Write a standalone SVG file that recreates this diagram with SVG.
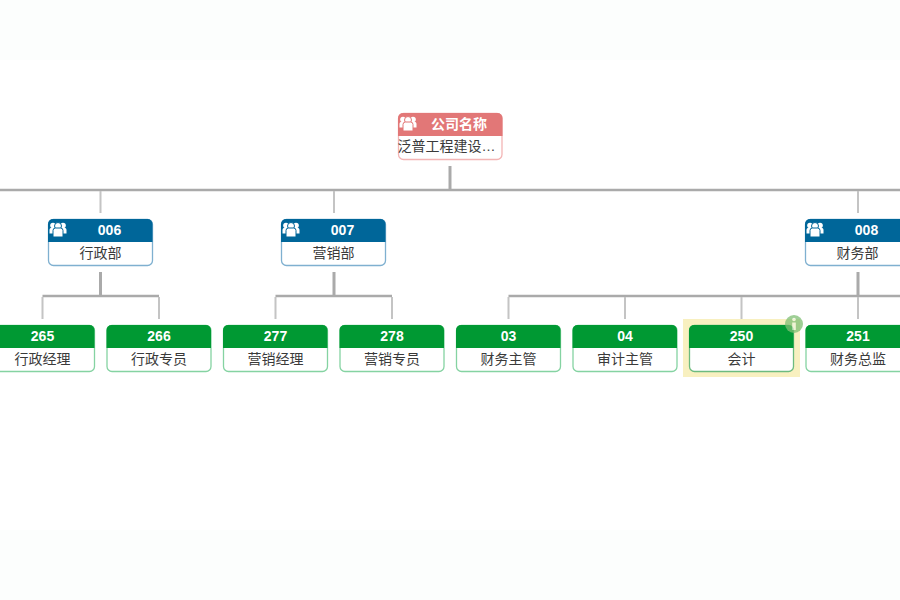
<svg xmlns="http://www.w3.org/2000/svg" width="900" height="600" viewBox="0 0 900 600">
<style>
.box{fill:#fff;stroke-width:1.300}
.t{font-family:"Liberation Sans","Noto Sans CJK SC",sans-serif;text-anchor:middle}
.h{font-size:14px;font-weight:bold;fill:#fff}
.b{font-size:14px;fill:#3a3a3a}
.trunk{stroke:#aaa;stroke-width:3;fill:none}
.bar{stroke:#aaa;stroke-width:2.400;fill:none}
.drop{stroke:#c4c4c4;stroke-width:2;fill:none}
.red .box{stroke:#f3b5b5}.red .hd{fill:#e27777}
.blue .box{stroke:#7fb0d0}.blue .hd{fill:#006699}
.green .box{stroke:#85d3a2}.green .hd{fill:#009933}
.red .ic{stroke:#e27777}.blue .ic{stroke:#006699}
</style>
<defs>
<g id="ppl" fill="#fff" stroke-width="1">
<circle cx="-5" cy="-3.500" r="2.800" stroke="none"/><circle cx="5" cy="-3.500" r="2.800" stroke="none"/>
<path d="M-8.500 4.500v-3.500q0-2.500 3-2.500h11q3 0 3 2.500v3.500z" stroke="none"/>
<circle cx="0" cy="-3" r="3.500"/><path d="M-5 8v-6.500q0-2.500 2.500-2.500h5q2.500 0 2.500 2.500v6.500z"/>
</g>
<path id="hdr" d="M0 23V5a5 5 0 0 1 5-5h94.500a5 5 0 0 1 5 5V23z"/>
</defs>
<rect width="900" height="600" fill="#fff"/>
<rect width="900" height="60" fill="#fcfefd"/>
<rect y="530" width="900" height="70" fill="#fcfefd"/>
<rect x="683" y="319" width="117" height="58" fill="#f8f0c0"/>
<g id="connectors">
<path class="trunk" d="M450 166V190"/>
<path class="bar" d="M0 190H900"/>
<path class="drop" d="M100.500 191V213M334 191V213M858 191V213"/>
<path class="trunk" d="M100.500 272V295M334 272V295M858 272V295"/>
<path class="bar" d="M42.500 296H159M275.500 296H392M508.500 296H900"/>
<path class="drop" d="M42.500 297V319M159 297V319M275.500 297V319M392 297V319M508.500 297V319M625 297V319M741.500 297V319M858 297V319"/>
</g>
<g id="root" class="red" transform="translate(398,113)"><rect class="box" x=".5" y=".5" width="103.500" height="46" rx="5"/><use class="hd" href="#hdr"/><use class="ic" href="#ppl" x="10" y="10"/><text class="t h" x="61" y="16">公司名称</text><text class="t b" x="48.500" y="38">泛普工程建设…</text></g>
<g id="n006" class="blue" transform="translate(48,219)"><rect class="box" x=".5" y=".5" width="104" height="46" rx="5"/><use class="hd" href="#hdr"/><use class="ic" href="#ppl" x="10" y="10"/><text class="t h" x="61.500" y="16">006</text><text class="t b" x="52.500" y="39">行政部</text></g>
<g id="n007" class="blue" transform="translate(281,219)"><rect class="box" x=".5" y=".5" width="104" height="46" rx="5"/><use class="hd" href="#hdr"/><use class="ic" href="#ppl" x="10" y="10"/><text class="t h" x="61.500" y="16">007</text><text class="t b" x="52.500" y="39">营销部</text></g>
<g id="n008" class="blue" transform="translate(805,219)"><rect class="box" x=".5" y=".5" width="104" height="46" rx="5"/><use class="hd" href="#hdr"/><use class="ic" href="#ppl" x="10" y="10"/><text class="t h" x="61.500" y="16">008</text><text class="t b" x="52.500" y="39">财务部</text></g>
<g id="n265" class="green" transform="translate(-10,325)"><rect class="box" x=".5" y=".5" width="104" height="46" rx="5"/><use class="hd" href="#hdr"/><text class="t h" x="52.500" y="16">265</text><text class="t b" x="52.500" y="39">行政经理</text></g>
<g id="n266" class="green" transform="translate(106.500,325)"><rect class="box" x=".5" y=".5" width="104" height="46" rx="5"/><use class="hd" href="#hdr"/><text class="t h" x="52.500" y="16">266</text><text class="t b" x="52.500" y="39">行政专员</text></g>
<g id="n277" class="green" transform="translate(223,325)"><rect class="box" x=".5" y=".5" width="104" height="46" rx="5"/><use class="hd" href="#hdr"/><text class="t h" x="52.500" y="16">277</text><text class="t b" x="52.500" y="39">营销经理</text></g>
<g id="n278" class="green" transform="translate(339.500,325)"><rect class="box" x=".5" y=".5" width="104" height="46" rx="5"/><use class="hd" href="#hdr"/><text class="t h" x="52.500" y="16">278</text><text class="t b" x="52.500" y="39">营销专员</text></g>
<g id="n03" class="green" transform="translate(456,325)"><rect class="box" x=".5" y=".5" width="104" height="46" rx="5"/><use class="hd" href="#hdr"/><text class="t h" x="52.500" y="16">03</text><text class="t b" x="52.500" y="39">财务主管</text></g>
<g id="n04" class="green" transform="translate(572.500,325)"><rect class="box" x=".5" y=".5" width="104" height="46" rx="5"/><use class="hd" href="#hdr"/><text class="t h" x="52.500" y="16">04</text><text class="t b" x="52.500" y="39">审计主管</text></g>
<g id="n250" class="green" transform="translate(689,325)"><rect class="box" x=".5" y=".5" width="104" height="46" rx="5" style="stroke:#6dbb7f"/><use class="hd" href="#hdr"/><text class="t h" x="52.500" y="16">250</text><text class="t b" x="52.500" y="39">会计</text></g>
<g id="n251" class="green" transform="translate(805.500,325)"><rect class="box" x=".5" y=".5" width="104" height="46" rx="5"/><use class="hd" href="#hdr"/><text class="t h" x="52.500" y="16">251</text><text class="t b" x="52.500" y="39">财务总监</text></g>
<g id="info" transform="translate(794,324)" opacity=".75"><circle r="9" fill="#7fbf74"/><circle cy="-4.500" r="1.800" fill="#eef5dc"/><rect x="-1.800" y="-1.500" width="3.600" height="7.500" fill="#eef5dc"/></g>
</svg>
